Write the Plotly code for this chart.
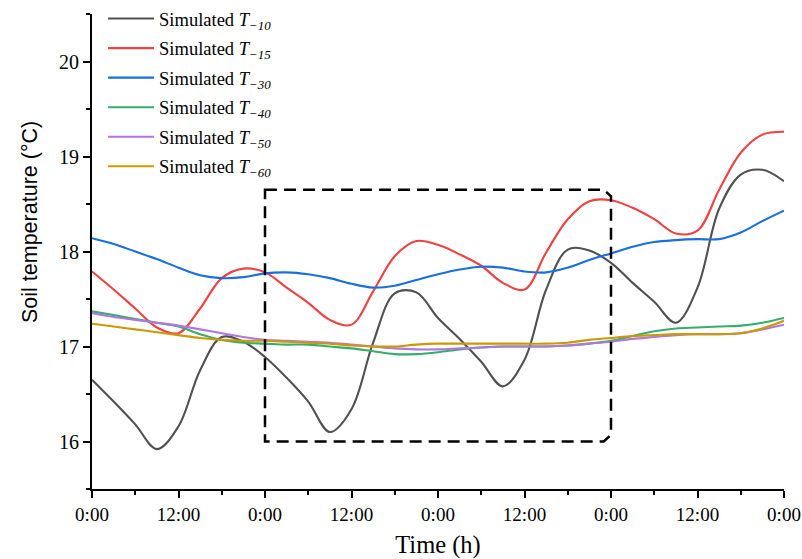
import plotly.graph_objects as go

# ---------------- data ----------------
hours = [0, 3, 6, 9, 12, 15, 18, 21, 24, 27, 30, 33, 36, 39, 42, 45, 48,
         51, 54, 57, 60, 63, 66, 69, 72, 75, 78, 81, 84, 87, 90, 93, 96]

t10 = [16.65, 16.42, 16.18, 15.92, 16.16, 16.75, 17.10, 17.05, 16.89, 16.67, 16.42,
       16.10, 16.34, 17.04, 17.56, 17.57, 17.30, 17.08, 16.84, 16.58, 16.86, 17.60,
       18.02, 18.01, 17.88, 17.67, 17.47, 17.25, 17.62, 18.45, 18.81, 18.86, 18.74]

t15 = [17.79, 17.60, 17.40, 17.20, 17.14, 17.40, 17.72, 17.82, 17.78, 17.62, 17.46,
       17.28, 17.23, 17.58, 17.95, 18.11, 18.07, 17.97, 17.85, 17.67, 17.60, 17.99,
       18.34, 18.53, 18.54, 18.46, 18.34, 18.19, 18.22, 18.65, 19.04, 19.23, 19.26]

t30 = [18.14, 18.08, 18.00, 17.92, 17.83, 17.75, 17.72, 17.73, 17.77, 17.78, 17.76,
       17.72, 17.66, 17.62, 17.64, 17.70, 17.76, 17.81, 17.84, 17.83, 17.79, 17.78,
       17.83, 17.91, 17.98, 18.05, 18.10, 18.12, 18.13, 18.13, 18.20, 18.32, 18.43]

t40 = [17.37, 17.33, 17.29, 17.25, 17.21, 17.13, 17.07, 17.04, 17.03, 17.02, 17.02,
       17.00, 16.98, 16.95, 16.92, 16.92, 16.94, 16.97, 16.99, 17.00, 17.00, 17.00,
       17.01, 17.03, 17.06, 17.11, 17.16, 17.19, 17.20, 17.21, 17.22, 17.25, 17.30]

t50 = [17.35, 17.31, 17.28, 17.25, 17.22, 17.18, 17.14, 17.10, 17.07, 17.06, 17.05,
       17.04, 17.02, 17.00, 16.98, 16.97, 16.97, 16.98, 16.99, 17.00, 17.00, 17.00,
       17.01, 17.03, 17.05, 17.08, 17.10, 17.12, 17.13, 17.13, 17.14, 17.18, 17.23]

t60 = [17.24, 17.21, 17.18, 17.15, 17.12, 17.09, 17.07, 17.06, 17.06, 17.05, 17.04,
       17.03, 17.01, 17.00, 17.00, 17.02, 17.03, 17.03, 17.03, 17.03, 17.03, 17.03,
       17.04, 17.07, 17.09, 17.11, 17.12, 17.13, 17.13, 17.13, 17.14, 17.19, 17.27]

x_tickvals = [0, 12, 24, 36, 48, 60, 72, 84, 96]
x_ticktext = ["0:00", "12:00", "0:00", "12:00", "0:00", "12:00", "0:00", "12:00", "0:00"]
y_tickvals = [16, 17, 18, 19, 20]

names = ["−10", "−15", "−30", "−40", "−50", "−60"]
colors = ["#515151", "#F14040", "#1A6FDF", "#37AD6B", "#B177DE", "#CC9900"]

# highlighted window (dashed box)
box_x0, box_x1 = 24, 72
box_y0, box_y1 = 16.0, 18.65

# ---------------- figure ----------------
series = [t10, t15, t30, t40, t50, t60]

fig = go.Figure()
for i, (ys, nm, c) in enumerate(zip(series, names, colors)):
    fig.add_trace(go.Scatter(
        x=hours, y=ys, mode="lines",
        line=dict(color=c, width=2.1, shape="spline", smoothing=1.0),
        name=f"Simulated <i>T</i><sub><i>{nm}</i></sub>",
        legendgroup=f"g{i}",
    ))

cx = 1.0   # chamfer size in hours
cy = 0.07  # chamfer size in °C
path = (f"M {box_x0},{box_y1} L {box_x1 - cx},{box_y1} L {box_x1},{box_y1 - cy} "
        f"L {box_x1},{box_y0 + cy} L {box_x1 - cx},{box_y0} L {box_x0},{box_y0} Z")
fig.add_shape(type="path", path=path, xref="x", yref="y",
              line=dict(color="black", width=2.5, dash="12px,7px"))

W, H = 802, 559
M_L, M_R, M_T, M_B = 92, 18, 0, 70
AXIS_TOP_PX = 14  # plot area starts 14 px below the top of the figure
PAPER_H = H - M_T - M_B
y_dom_top = 1 - AXIS_TOP_PX / PAPER_H

serif = "Liberation Serif"

# y-axis title (placed as a rotated annotation, slightly above the axis centre)
YTITLE_X_PX, YTITLE_Y_PX = 30, 222
fig.add_annotation(
    text="Soil temperature (°C)", textangle=-90,
    xref="paper", yref="paper",
    x=(YTITLE_X_PX - M_L) / (W - M_L - M_R),
    y=(H - M_B - YTITLE_Y_PX) / PAPER_H,
    xanchor="center", yanchor="middle", showarrow=False,
    font=dict(family="Liberation Sans", size=21.5, color="black"),
)

fig.update_layout(
    width=W, height=H,
    margin=dict(l=M_L, r=M_R, t=M_T, b=M_B),
    paper_bgcolor="white", plot_bgcolor="white",
    font=dict(family=serif, size=19, color="black"),
    showlegend=True,
    legend=dict(
        x=0.016, y=1.0, xanchor="left", yanchor="top",
        bgcolor="rgba(0,0,0,0)", font=dict(family=serif, size=18.5),
        tracegroupgap=2.5, itemwidth=46,
    ),
    xaxis=dict(
        range=[0, 96], tickmode="array", tickvals=x_tickvals, ticktext=x_ticktext,
        automargin=False,
        showgrid=False, zeroline=False, showline=True, linecolor="black", linewidth=2,
        ticks="outside", ticklen=7, tickwidth=2, tickcolor="black",
        minor=dict(tickmode="linear", tick0=0, dtick=6, ticks="outside",
                   ticklen=4, tickwidth=2, tickcolor="black", showgrid=False),
        tickfont=dict(family=serif, size=19),
        title=dict(text="Time (h)", font=dict(family=serif, size=24.5)),
    ),
    yaxis=dict(
        range=[15.5, 20.5], tickmode="array", tickvals=y_tickvals,
        domain=[0, y_dom_top], automargin=False,
        showgrid=False, zeroline=False, showline=True, linecolor="black", linewidth=2,
        ticks="outside", ticklen=7, tickwidth=2, tickcolor="black",
        minor=dict(tickmode="linear", tick0=15.5, dtick=0.5, ticks="outside",
                   ticklen=4, tickwidth=2, tickcolor="black", showgrid=False),
        tickfont=dict(family=serif, size=20),
    ),
)

fig.write_html("out.html", config={"displayModeBar": False},
               post_script="document.body.style.margin='0';")
